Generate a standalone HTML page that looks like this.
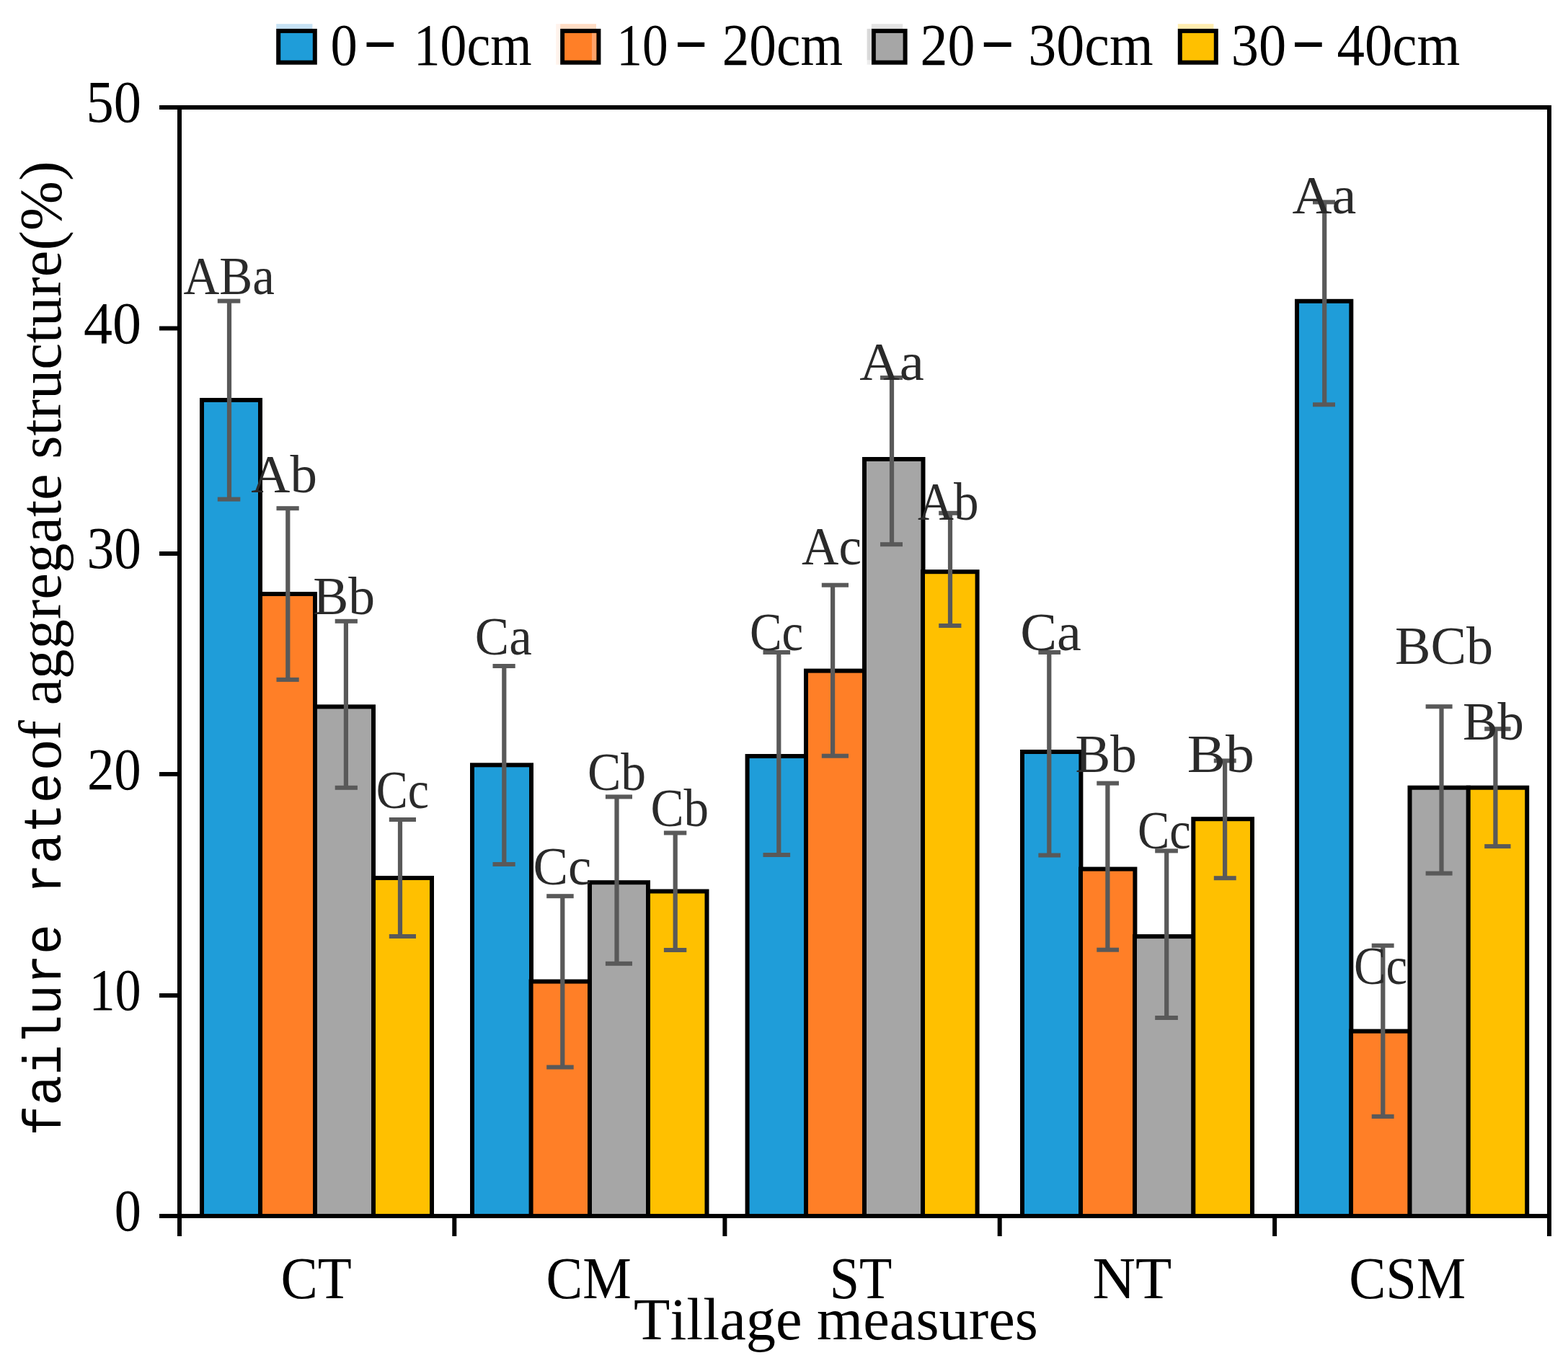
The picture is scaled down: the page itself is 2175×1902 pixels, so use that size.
<!DOCTYPE html>
<html><head><meta charset="utf-8"><title>failure rate of aggregate structure</title>
<style>html,body{margin:0;padding:0;background:#fff;overflow:hidden;}svg{display:block;} text{font-kerning:none;font-variant-ligatures:none;}</style></head><body>
<svg width="2175" height="1902" viewBox="0 0 2175 1902">
<rect x="0" y="0" width="2175" height="1902" fill="#fff"/>
<rect x="383.2" y="33.2" width="50.2" height="6.7" fill="#C6E2F4"/>
<rect x="386.2" y="42.9" width="50.6" height="43.8" fill="#1F9DD9" stroke="#000" stroke-width="6"/>
<text x="458.5" y="89.5" font-family="'Liberation Serif','Times New Roman',serif" font-size="83.3" fill="#000" textLength="37.3" lengthAdjust="spacingAndGlyphs">0</text>
<text transform="translate(508.90,91.11) scale(0.8787,1.5185)" x="0" y="0" font-family="'Liberation Serif','Times New Roman',serif" font-size="83.3" fill="#000">–</text>
<text x="573.7" y="89.5" font-family="'Liberation Serif','Times New Roman',serif" font-size="83.3" fill="#000" textLength="164.0" lengthAdjust="spacingAndGlyphs">10cm</text>
<rect x="777.1" y="33.2" width="49.9" height="6.7" fill="#FFDCC4"/>
<rect x="780.1" y="42.9" width="50.3" height="43.8" fill="#FF7F27" stroke="#000" stroke-width="6"/>
<text x="855.2" y="89.5" font-family="'Liberation Serif','Times New Roman',serif" font-size="83.3" fill="#000" textLength="71.4" lengthAdjust="spacingAndGlyphs">10</text>
<text transform="translate(940.50,91.11) scale(0.8694,1.5185)" x="0" y="0" font-family="'Liberation Serif','Times New Roman',serif" font-size="83.3" fill="#000">–</text>
<text x="1001.7" y="89.5" font-family="'Liberation Serif','Times New Roman',serif" font-size="83.3" fill="#000" textLength="167.4" lengthAdjust="spacingAndGlyphs">20cm</text>
<rect x="1208.8" y="33.2" width="43.4" height="6.7" fill="#E4E4E4"/>
<rect x="1211.8" y="42.9" width="43.8" height="43.8" fill="#A6A6A6" stroke="#000" stroke-width="6"/>
<text x="1276.6" y="89.5" font-family="'Liberation Serif','Times New Roman',serif" font-size="83.3" fill="#000" textLength="75.8" lengthAdjust="spacingAndGlyphs">20</text>
<text transform="translate(1365.20,91.11) scale(0.8857,1.5185)" x="0" y="0" font-family="'Liberation Serif','Times New Roman',serif" font-size="83.3" fill="#000">–</text>
<text x="1426.3" y="89.5" font-family="'Liberation Serif','Times New Roman',serif" font-size="83.3" fill="#000" textLength="173.4" lengthAdjust="spacingAndGlyphs">30cm</text>
<rect x="1633.8" y="33.2" width="49.6" height="6.7" fill="#FFEDB0"/>
<rect x="1636.8" y="42.9" width="50.0" height="43.8" fill="#FFC000" stroke="#000" stroke-width="6"/>
<text x="1707.8" y="89.5" font-family="'Liberation Serif','Times New Roman',serif" font-size="83.3" fill="#000" textLength="76.4" lengthAdjust="spacingAndGlyphs">30</text>
<text transform="translate(1796.50,91.11) scale(0.8811,1.5185)" x="0" y="0" font-family="'Liberation Serif','Times New Roman',serif" font-size="83.3" fill="#000">–</text>
<text x="1854.5" y="89.5" font-family="'Liberation Serif','Times New Roman',serif" font-size="83.3" fill="#000" textLength="170.7" lengthAdjust="spacingAndGlyphs">40cm</text>
<rect x="821" y="45.9" width="6.1" height="37.8" fill="#FFA268"/>
<rect x="771.2" y="33.2" width="5.9" height="56.5" fill="#FFF3EC"/>
<rect x="1202.6" y="39.9" width="6.2" height="43.8" fill="#DADADA"/>
<rect x="1202.6" y="83.7" width="6.2" height="6" fill="#EDEDED"/>
<rect x="280.0" y="555.0" width="81.0" height="1132.0" fill="#1F9DD9" stroke="#000" stroke-width="6"/>
<rect x="361.0" y="824.0" width="76.0" height="863.0" fill="#FF7F27" stroke="#000" stroke-width="6"/>
<rect x="437.0" y="980.4" width="81.0" height="706.6" fill="#A6A6A6" stroke="#000" stroke-width="6"/>
<rect x="518.0" y="1218.0" width="81.0" height="469.0" fill="#FFC000" stroke="#000" stroke-width="6"/>
<rect x="655.0" y="1061.3" width="82.0" height="625.7" fill="#1F9DD9" stroke="#000" stroke-width="6"/>
<rect x="736.6" y="1361.6" width="81.4" height="325.4" fill="#FF7F27" stroke="#000" stroke-width="6"/>
<rect x="818.0" y="1224.2" width="81.0" height="462.8" fill="#A6A6A6" stroke="#000" stroke-width="6"/>
<rect x="899.0" y="1236.5" width="81.5" height="450.5" fill="#FFC000" stroke="#000" stroke-width="6"/>
<rect x="1036.6" y="1049.0" width="81.4" height="638.0" fill="#1F9DD9" stroke="#000" stroke-width="6"/>
<rect x="1118.0" y="930.6" width="81.0" height="756.4" fill="#FF7F27" stroke="#000" stroke-width="6"/>
<rect x="1199.0" y="637.0" width="81.5" height="1050.0" fill="#A6A6A6" stroke="#000" stroke-width="6"/>
<rect x="1280.0" y="793.2" width="75.6" height="893.8" fill="#FFC000" stroke="#000" stroke-width="6"/>
<rect x="1418.0" y="1043.0" width="81.4" height="644.0" fill="#1F9DD9" stroke="#000" stroke-width="6"/>
<rect x="1499.0" y="1205.6" width="75.4" height="481.4" fill="#FF7F27" stroke="#000" stroke-width="6"/>
<rect x="1574.0" y="1299.1" width="81.6" height="387.9" fill="#A6A6A6" stroke="#000" stroke-width="6"/>
<rect x="1655.3" y="1136.2" width="81.7" height="550.8" fill="#FFC000" stroke="#000" stroke-width="6"/>
<rect x="1799.0" y="417.8" width="75.3" height="1269.2" fill="#1F9DD9" stroke="#000" stroke-width="6"/>
<rect x="1874.0" y="1430.6" width="81.7" height="256.4" fill="#FF7F27" stroke="#000" stroke-width="6"/>
<rect x="1955.5" y="1092.7" width="81.4" height="594.3" fill="#A6A6A6" stroke="#000" stroke-width="6"/>
<rect x="2036.7" y="1092.7" width="81.5" height="594.3" fill="#FFC000" stroke="#000" stroke-width="6"/>
<rect x="314.9" y="417.6" width="6.2" height="275.0" fill="#595959"/>
<rect x="301.8" y="414.6" width="31.5" height="6" fill="#595959"/>
<rect x="301.8" y="689.6" width="31.5" height="6" fill="#595959"/>
<rect x="396.2" y="705.2" width="6.2" height="237.7" fill="#595959"/>
<rect x="383.5" y="702.2" width="31.2" height="6" fill="#595959"/>
<rect x="383.5" y="939.9" width="31.2" height="6" fill="#595959"/>
<rect x="476.8" y="861.8" width="6.2" height="231.0" fill="#595959"/>
<rect x="464.7" y="858.8" width="31.2" height="6" fill="#595959"/>
<rect x="464.7" y="1089.8" width="31.2" height="6" fill="#595959"/>
<rect x="551.9" y="1137.0" width="6.2" height="162.0" fill="#595959"/>
<rect x="539.8" y="1134.0" width="37.2" height="6" fill="#595959"/>
<rect x="539.8" y="1296.0" width="37.2" height="6" fill="#595959"/>
<rect x="696.2" y="924.0" width="6.2" height="275.0" fill="#595959"/>
<rect x="683.5" y="921.0" width="31.2" height="6" fill="#595959"/>
<rect x="683.5" y="1196.0" width="31.2" height="6" fill="#595959"/>
<rect x="777.2" y="1243.2" width="6.2" height="237.3" fill="#595959"/>
<rect x="758.2" y="1240.2" width="37.5" height="6" fill="#595959"/>
<rect x="758.2" y="1477.5" width="37.5" height="6" fill="#595959"/>
<rect x="852.4" y="1105.4" width="6.2" height="231.4" fill="#595959"/>
<rect x="839.9" y="1102.4" width="37.1" height="6" fill="#595959"/>
<rect x="839.9" y="1333.8" width="37.1" height="6" fill="#595959"/>
<rect x="933.6" y="1155.5" width="6.2" height="162.5" fill="#595959"/>
<rect x="920.9" y="1152.5" width="31.4" height="6" fill="#595959"/>
<rect x="920.9" y="1315.0" width="31.4" height="6" fill="#595959"/>
<rect x="1077.2" y="905.0" width="6.2" height="281.0" fill="#595959"/>
<rect x="1058.5" y="902.0" width="37.6" height="6" fill="#595959"/>
<rect x="1058.5" y="1183.0" width="37.6" height="6" fill="#595959"/>
<rect x="1152.0" y="811.7" width="6.2" height="237.0" fill="#595959"/>
<rect x="1139.8" y="808.7" width="37.2" height="6" fill="#595959"/>
<rect x="1139.8" y="1045.7" width="37.2" height="6" fill="#595959"/>
<rect x="1233.9" y="524.0" width="6.2" height="231.2" fill="#595959"/>
<rect x="1221.0" y="521.0" width="31.0" height="6" fill="#595959"/>
<rect x="1221.0" y="752.2" width="31.0" height="6" fill="#595959"/>
<rect x="1314.9" y="711.8" width="6.2" height="156.2" fill="#595959"/>
<rect x="1302.2" y="708.8" width="31.2" height="6" fill="#595959"/>
<rect x="1302.2" y="865.0" width="31.2" height="6" fill="#595959"/>
<rect x="1452.2" y="905.0" width="6.2" height="281.5" fill="#595959"/>
<rect x="1440.4" y="902.0" width="30.7" height="6" fill="#595959"/>
<rect x="1440.4" y="1183.5" width="30.7" height="6" fill="#595959"/>
<rect x="1533.3" y="1086.6" width="6.2" height="231.1" fill="#595959"/>
<rect x="1521.3" y="1083.6" width="30.7" height="6" fill="#595959"/>
<rect x="1521.3" y="1314.7" width="30.7" height="6" fill="#595959"/>
<rect x="1615.1" y="1180.4" width="6.2" height="231.6" fill="#595959"/>
<rect x="1602.2" y="1177.4" width="31.7" height="6" fill="#595959"/>
<rect x="1602.2" y="1409.0" width="31.7" height="6" fill="#595959"/>
<rect x="1696.0" y="1055.4" width="6.2" height="162.8" fill="#595959"/>
<rect x="1683.8" y="1052.4" width="30.9" height="6" fill="#595959"/>
<rect x="1683.8" y="1215.2" width="30.9" height="6" fill="#595959"/>
<rect x="1834.1" y="280.4" width="6.2" height="280.9" fill="#595959"/>
<rect x="1821.0" y="277.4" width="31.0" height="6" fill="#595959"/>
<rect x="1821.0" y="558.3" width="31.0" height="6" fill="#595959"/>
<rect x="1915.2" y="1311.8" width="6.2" height="237.1" fill="#595959"/>
<rect x="1902.7" y="1308.8" width="30.9" height="6" fill="#595959"/>
<rect x="1902.7" y="1545.9" width="30.9" height="6" fill="#595959"/>
<rect x="1996.4" y="980.2" width="6.2" height="231.4" fill="#595959"/>
<rect x="1977.6" y="977.2" width="37.0" height="6" fill="#595959"/>
<rect x="1977.6" y="1208.6" width="37.0" height="6" fill="#595959"/>
<rect x="2071.3" y="1011.2" width="6.2" height="162.9" fill="#595959"/>
<rect x="2059.2" y="1008.2" width="36.3" height="6" fill="#595959"/>
<rect x="2059.2" y="1171.1" width="36.3" height="6" fill="#595959"/>
<g fill="#000">
<rect x="221" y="146" width="1931" height="6"/>
<rect x="221" y="1684" width="1931" height="6"/>
<rect x="246" y="146" width="6" height="1569"/>
<rect x="2146" y="146" width="6" height="1569"/>
<rect x="221" y="146.0" width="27" height="6"/>
<rect x="221" y="452.5" width="27" height="6"/>
<rect x="221" y="765.0" width="27" height="6"/>
<rect x="221" y="1071.0" width="27" height="6"/>
<rect x="221" y="1378.0" width="27" height="6"/>
<rect x="221" y="1684.0" width="27" height="6"/>
<rect x="246.0" y="1687" width="6" height="28"/>
<rect x="627.3" y="1687" width="6" height="28"/>
<rect x="1002.4" y="1687" width="6" height="28"/>
<rect x="1383.7" y="1687" width="6" height="28"/>
<rect x="1765.1" y="1687" width="6" height="28"/>
<rect x="2146.0" y="1687" width="6" height="28"/>
</g>
<text x="254.4" y="408.3" font-family="'Liberation Serif','Times New Roman',serif" font-size="75" fill="#2a2a2a" textLength="126.4" lengthAdjust="spacingAndGlyphs">ABa</text>
<text x="348.3" y="683.2" font-family="'Liberation Serif','Times New Roman',serif" font-size="75" fill="#2a2a2a" textLength="91.6" lengthAdjust="spacingAndGlyphs">Ab</text>
<text x="434.2" y="852.3" font-family="'Liberation Serif','Times New Roman',serif" font-size="75" fill="#2a2a2a" textLength="85.9" lengthAdjust="spacingAndGlyphs">Bb</text>
<text x="521.7" y="1120.8" font-family="'Liberation Serif','Times New Roman',serif" font-size="75" fill="#2a2a2a" textLength="73.3" lengthAdjust="spacingAndGlyphs">Cc</text>
<text x="658.8" y="908.4" font-family="'Liberation Serif','Times New Roman',serif" font-size="75" fill="#2a2a2a" textLength="78.9" lengthAdjust="spacingAndGlyphs">Ca</text>
<text x="739.5" y="1227.0" font-family="'Liberation Serif','Times New Roman',serif" font-size="75" fill="#2a2a2a" textLength="80.9" lengthAdjust="spacingAndGlyphs">Cc</text>
<text x="814.9" y="1095.6" font-family="'Liberation Serif','Times New Roman',serif" font-size="75" fill="#2a2a2a" textLength="81.2" lengthAdjust="spacingAndGlyphs">Cb</text>
<text x="902.4" y="1145.9" font-family="'Liberation Serif','Times New Roman',serif" font-size="75" fill="#2a2a2a" textLength="80.7" lengthAdjust="spacingAndGlyphs">Cb</text>
<text x="1039.9" y="902.3" font-family="'Liberation Serif','Times New Roman',serif" font-size="75" fill="#2a2a2a" textLength="74.4" lengthAdjust="spacingAndGlyphs">Cc</text>
<text x="1112.1" y="783.4" font-family="'Liberation Serif','Times New Roman',serif" font-size="75" fill="#2a2a2a" textLength="82.9" lengthAdjust="spacingAndGlyphs">Ac</text>
<text x="1192.3" y="526.8" font-family="'Liberation Serif','Times New Roman',serif" font-size="75" fill="#2a2a2a" textLength="89.5" lengthAdjust="spacingAndGlyphs">Aa</text>
<text x="1273.0" y="720.7" font-family="'Liberation Serif','Times New Roman',serif" font-size="75" fill="#2a2a2a" textLength="84.5" lengthAdjust="spacingAndGlyphs">Ab</text>
<text x="1415.2" y="901.9" font-family="'Liberation Serif','Times New Roman',serif" font-size="75" fill="#2a2a2a" textLength="84.7" lengthAdjust="spacingAndGlyphs">Ca</text>
<text x="1491.6" y="1071.0" font-family="'Liberation Serif','Times New Roman',serif" font-size="75" fill="#2a2a2a" textLength="85.3" lengthAdjust="spacingAndGlyphs">Bb</text>
<text x="1577.9" y="1177.2" font-family="'Liberation Serif','Times New Roman',serif" font-size="75" fill="#2a2a2a" textLength="73.8" lengthAdjust="spacingAndGlyphs">Cc</text>
<text x="1646.8" y="1070.9" font-family="'Liberation Serif','Times New Roman',serif" font-size="75" fill="#2a2a2a" textLength="93.1" lengthAdjust="spacingAndGlyphs">Bb</text>
<text x="1792.6" y="295.6" font-family="'Liberation Serif','Times New Roman',serif" font-size="75" fill="#2a2a2a" textLength="88.7" lengthAdjust="spacingAndGlyphs">Aa</text>
<text x="1877.9" y="1364.5" font-family="'Liberation Serif','Times New Roman',serif" font-size="75" fill="#2a2a2a" textLength="74.1" lengthAdjust="spacingAndGlyphs">Cc</text>
<text x="1935.0" y="920.9" font-family="'Liberation Serif','Times New Roman',serif" font-size="75" fill="#2a2a2a" textLength="136.0" lengthAdjust="spacingAndGlyphs">BCb</text>
<text x="2029.1" y="1026.4" font-family="'Liberation Serif','Times New Roman',serif" font-size="75" fill="#2a2a2a" textLength="84.9" lengthAdjust="spacingAndGlyphs">Bb</text>
<text x="119.5" y="169.4" font-family="'Liberation Serif','Times New Roman',serif" font-size="83.3" fill="#000" textLength="76.5" lengthAdjust="spacingAndGlyphs">50</text>
<text x="115.9" y="475.5" font-family="'Liberation Serif','Times New Roman',serif" font-size="83.3" fill="#000" textLength="80.1" lengthAdjust="spacingAndGlyphs">40</text>
<text x="120.6" y="788.0" font-family="'Liberation Serif','Times New Roman',serif" font-size="83.3" fill="#000" textLength="75.3" lengthAdjust="spacingAndGlyphs">30</text>
<text x="120.9" y="1094.5" font-family="'Liberation Serif','Times New Roman',serif" font-size="83.3" fill="#000" textLength="74.9" lengthAdjust="spacingAndGlyphs">20</text>
<text x="123.4" y="1400.5" font-family="'Liberation Serif','Times New Roman',serif" font-size="83.3" fill="#000" textLength="72.3" lengthAdjust="spacingAndGlyphs">10</text>
<text x="158.7" y="1706.8" font-family="'Liberation Serif','Times New Roman',serif" font-size="83.3" fill="#000" textLength="37.2" lengthAdjust="spacingAndGlyphs">0</text>
<text x="389.5" y="1801.0" font-family="'Liberation Serif','Times New Roman',serif" font-size="83.3" fill="#000" textLength="98.3" lengthAdjust="spacingAndGlyphs">CT</text>
<text x="757.6" y="1801.0" font-family="'Liberation Serif','Times New Roman',serif" font-size="83.3" fill="#000" textLength="118.2" lengthAdjust="spacingAndGlyphs">CM</text>
<text x="1150.8" y="1801.0" font-family="'Liberation Serif','Times New Roman',serif" font-size="83.3" fill="#000" textLength="86.6" lengthAdjust="spacingAndGlyphs">ST</text>
<text x="1515.6" y="1801.0" font-family="'Liberation Serif','Times New Roman',serif" font-size="83.3" fill="#000" textLength="109.7" lengthAdjust="spacingAndGlyphs">NT</text>
<text x="1871.2" y="1801.0" font-family="'Liberation Serif','Times New Roman',serif" font-size="83.3" fill="#000" textLength="161.9" lengthAdjust="spacingAndGlyphs">CSM</text>
<text x="879.1" y="1857.6" font-family="'Liberation Serif','Times New Roman',serif" font-size="83.3" fill="#000" textLength="560.7" lengthAdjust="spacingAndGlyphs">Tillage measures</text>
<g transform="translate(84,0) rotate(-90)">
<text x="-1575.7" y="0.0" font-family="'Liberation Mono','Courier New',monospace" font-size="74" fill="#000" textLength="503.3" lengthAdjust="spacingAndGlyphs">failure rate</text>
<text x="-1068.1" y="0.0" font-family="'Liberation Serif','Times New Roman',serif" font-size="83.3" fill="#000" textLength="844.5" lengthAdjust="spacingAndGlyphs">of aggregate structure(%)</text>
</g>
</svg></body></html>
